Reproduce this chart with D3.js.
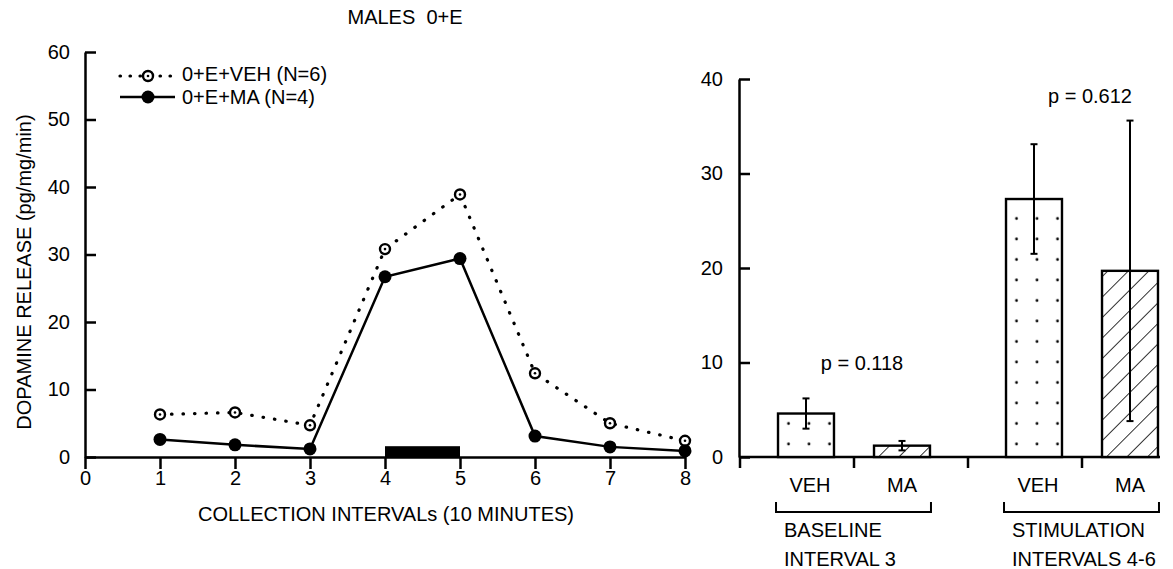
<!DOCTYPE html>
<html>
<head>
<meta charset="utf-8">
<script src="https://cdn.jsdelivr.net/npm/d3@7"></script>
<style>
  html, body { margin: 0; padding: 0; background: #fff; }
  svg { display: block; }
  text { font-family: "Liberation Sans", Arial, Helvetica, sans-serif; fill: #000; }
</style>
</head>
<body>
<svg id="chart" width="1173" height="569"></svg>
<script>
// ---- Time course (left panel) ----
const intervals = [1, 2, 3, 4, 5, 6, 7, 8];
const vehValues = [6.3, 6.6, 4.7, 30.8, 38.9, 12.4, 5.0, 2.4];
const maValues  = [2.6, 1.8, 1.2, 26.7, 29.4, 3.1, 1.5, 0.9];
const stimPeriod = [4, 5];          // stimulation marker on the time axis
const stimMarkHeight = 1.6;         // marker height in data units
const lineTicksX = [0, 1, 2, 3, 4, 5, 6, 7, 8];
const lineTicksY = [0, 10, 20, 30, 40, 50, 60];
const legendLabels = ["0+E+VEH (N=6)", "0+E+MA (N=4)"];

// ---- Summary bars (right panel) ----
const groups = ["BASELINE", "STIMULATION"];
const groupLines = [["BASELINE", "INTERVAL 3"], ["STIMULATION", "INTERVALS 4-6"]];
const treatments = ["VEH", "MA"];
const barMeans = [[4.6, 1.2], [27.3, 19.7]];
const barErrors = [[1.6, 0.5], [5.8, 15.9]];
const pValues = ["p = 0.118", "p = 0.612"];
const pValueHeights = [9.2, 37.5];
const barTicksY = [0, 10, 20, 30, 40];

const svg = d3.select("#chart");
const FS = 20;

// fill patterns
const defs = svg.append("defs");
const dots = defs.append("pattern").attr("id", "dots")
  .attr("patternUnits", "userSpaceOnUse").attr("width", 20.5).attr("height", 20.5)
  .attr("x", 776).attr("y", 3);
dots.append("rect").attr("width", 20.5).attr("height", 20.5).attr("fill", "#fff");
dots.append("circle").attr("cx", 10.5).attr("cy", 10.5).attr("r", 1.4).attr("fill", "#000");

const hatch = defs.append("pattern").attr("id", "hatch")
  .attr("patternUnits", "userSpaceOnUse").attr("width", 14.5).attr("height", 14.5)
  .attr("patternTransform", "rotate(45)");
hatch.append("rect").attr("width", 14.5).attr("height", 14.5).attr("fill", "#fff");
hatch.append("line").attr("x1", 0).attr("y1", 0).attr("x2", 0).attr("y2", 14.5)
  .attr("stroke", "#000").attr("stroke-width", 1.6);

// ================= Left panel =================
const x = d3.scaleLinear().domain([0, 8]).range([85, 685]);
const y = d3.scaleLinear().domain([0, 60]).range([457, 52]);

svg.append("text").attr("x", 405).attr("y", 24).attr("text-anchor", "middle")
  .attr("font-size", FS).style("white-space", "pre").text("MALES  0+E");

const yAxisL = svg.append("g").attr("transform", `translate(${x(0)},0)`)
  .call(d3.axisLeft(y).tickValues(lineTicksY).tickSizeInner(-11).tickSizeOuter(0).tickPadding(15));
const xAxisL = svg.append("g").attr("transform", `translate(0,${y(0)})`)
  .call(d3.axisBottom(x).tickValues(lineTicksX).tickSizeInner(12).tickSizeOuter(0).tickPadding(2));
[yAxisL, xAxisL].forEach(g => {
  g.select(".domain").attr("stroke", "#000").attr("stroke-width", 2.5);
  g.selectAll(".tick line").attr("stroke", "#000").attr("stroke-width", 2.5);
  g.selectAll(".tick text").attr("font-size", FS).attr("font-family", "Liberation Sans, Arial, sans-serif");
});

svg.append("text").attr("transform", `translate(31,272) rotate(-90)`)
  .attr("text-anchor", "middle").attr("font-size", FS)
  .text("DOPAMINE RELEASE (pg/mg/min)");
svg.append("text").attr("x", 386).attr("y", 521).attr("text-anchor", "middle")
  .attr("font-size", FS).text("COLLECTION INTERVALs (10 MINUTES)");

// stimulation marker
svg.append("rect")
  .attr("x", x(stimPeriod[0])).attr("width", x(stimPeriod[1]) - x(stimPeriod[0]))
  .attr("y", y(stimMarkHeight)).attr("height", y(0) - y(stimMarkHeight))
  .attr("fill", "#000");

const line = d3.line().x((d, i) => x(intervals[i])).y(d => y(d));

svg.append("path").datum(vehValues).attr("d", line)
  .attr("fill", "none").attr("stroke", "#000").attr("stroke-width", 3.2)
  .attr("stroke-dasharray", "0.5,11").attr("stroke-linecap", "round");
svg.append("path").datum(maValues).attr("d", line)
  .attr("fill", "none").attr("stroke", "#000").attr("stroke-width", 2.5);

function openMarker(g, cx, cy) {
  g.append("circle").attr("cx", cx).attr("cy", cy).attr("r", 5).attr("fill", "#fff")
    .attr("stroke", "#000").attr("stroke-width", 2.4);
  g.append("circle").attr("cx", cx).attr("cy", cy).attr("r", 1.3).attr("fill", "#000");
}
const vehG = svg.append("g");
vehValues.forEach((v, i) => openMarker(vehG, x(intervals[i]), y(v)));
svg.append("g").selectAll("circle").data(maValues).join("circle")
  .attr("cx", (d, i) => x(intervals[i])).attr("cy", d => y(d)).attr("r", 6.5).attr("fill", "#000");

// legend
const leg = svg.append("g");
leg.append("line").attr("x1", 120).attr("x2", 175).attr("y1", 76).attr("y2", 76)
  .attr("stroke", "#000").attr("stroke-width", 3.2).attr("stroke-dasharray", "0.5,9.5")
  .attr("stroke-linecap", "round");
openMarker(leg, 148, 76);
leg.append("line").attr("x1", 120).attr("x2", 175).attr("y1", 97).attr("y2", 97)
  .attr("stroke", "#000").attr("stroke-width", 2.5);
leg.append("circle").attr("cx", 148).attr("cy", 97).attr("r", 6.5).attr("fill", "#000");
leg.append("text").attr("x", 182).attr("y", 81).attr("font-size", FS).text(legendLabels[0]);
leg.append("text").attr("x", 182).attr("y", 104).attr("font-size", FS).text(legendLabels[1]);

// ================= Right panel =================
const gx = d3.scaleBand().domain(groups).range([740, 1196]).padding(0);
const bx = d3.scaleBand().domain(treatments).range([0, gx.bandwidth()])
  .paddingInner(0.417).paddingOuter(0.396);
const yb = d3.scaleLinear().domain([0, 40]).range([457, 79]);

const yAxisR = svg.append("g").attr("transform", `translate(739,0)`)
  .call(d3.axisLeft(yb).tickValues(barTicksY).tickSizeInner(-11).tickSizeOuter(0).tickPadding(16));
yAxisR.select(".domain").attr("stroke", "#000").attr("stroke-width", 2.5);
yAxisR.selectAll(".tick line").attr("stroke", "#000").attr("stroke-width", 2.5);
yAxisR.selectAll(".tick text").attr("font-size", FS).attr("font-family", "Liberation Sans, Arial, sans-serif");

// baseline axis with ticks at group edges and centres
svg.append("line").attr("x1", 739).attr("x2", 1160).attr("y1", yb(0)).attr("y2", yb(0))
  .attr("stroke", "#000").attr("stroke-width", 2.5);
const tickXs = groups.flatMap(g => [gx(g), gx(g) + gx.bandwidth() / 2]);
svg.append("g").selectAll("line").data(tickXs).join("line")
  .attr("x1", d => d).attr("x2", d => d).attr("y1", yb(0)).attr("y2", yb(0) + 11)
  .attr("stroke", "#000").attr("stroke-width", 2.5);

groups.forEach((g, gi) => {
  const gg = svg.append("g").attr("transform", `translate(${gx(g)},0)`);
  treatments.forEach((t, ti) => {
    const m = barMeans[gi][ti], e = barErrors[gi][ti];
    const bx0 = bx(t), bw = bx.bandwidth(), cx = bx0 + bw / 2;
    gg.append("rect").attr("x", bx0).attr("width", bw)
      .attr("y", yb(m)).attr("height", yb(0) - yb(m))
      .attr("fill", ti === 0 ? "url(#dots)" : "url(#hatch)")
      .attr("stroke", "#000").attr("stroke-width", 2.4);
    // error bar
    gg.append("line").attr("x1", cx).attr("x2", cx).attr("y1", yb(m + e)).attr("y2", yb(Math.max(m - e, 0)))
      .attr("stroke", "#000").attr("stroke-width", 2);
    [m + e, m - e].forEach(v => {
      gg.append("line").attr("x1", cx - 3.5).attr("x2", cx + 3.5).attr("y1", yb(v)).attr("y2", yb(v))
        .attr("stroke", "#000").attr("stroke-width", 2);
    });
    gg.append("text").attr("x", cx + (ti === 0 ? 4 : 0)).attr("y", 492).attr("text-anchor", "middle")
      .attr("font-size", FS).text(t);
  });
  // bracket under the group
  const left = bx(treatments[0]) - 2, right = bx(treatments[1]) + bx.bandwidth() + 1;
  gg.append("path").attr("d", `M${left},502 V512 H${right} V502`)
    .attr("fill", "none").attr("stroke", "#000").attr("stroke-width", 2);
  groupLines[gi].forEach((s, li) => {
    gg.append("text").attr("x", left + 8).attr("y", 537 + li * 29).attr("font-size", FS).text(s);
  });
  gg.append("text").attr("x", gx.bandwidth() / 2 + 8).attr("y", yb(pValueHeights[gi]))
    .attr("text-anchor", "middle").attr("font-size", FS).text(pValues[gi]);
});
</script>
</body>
</html>
